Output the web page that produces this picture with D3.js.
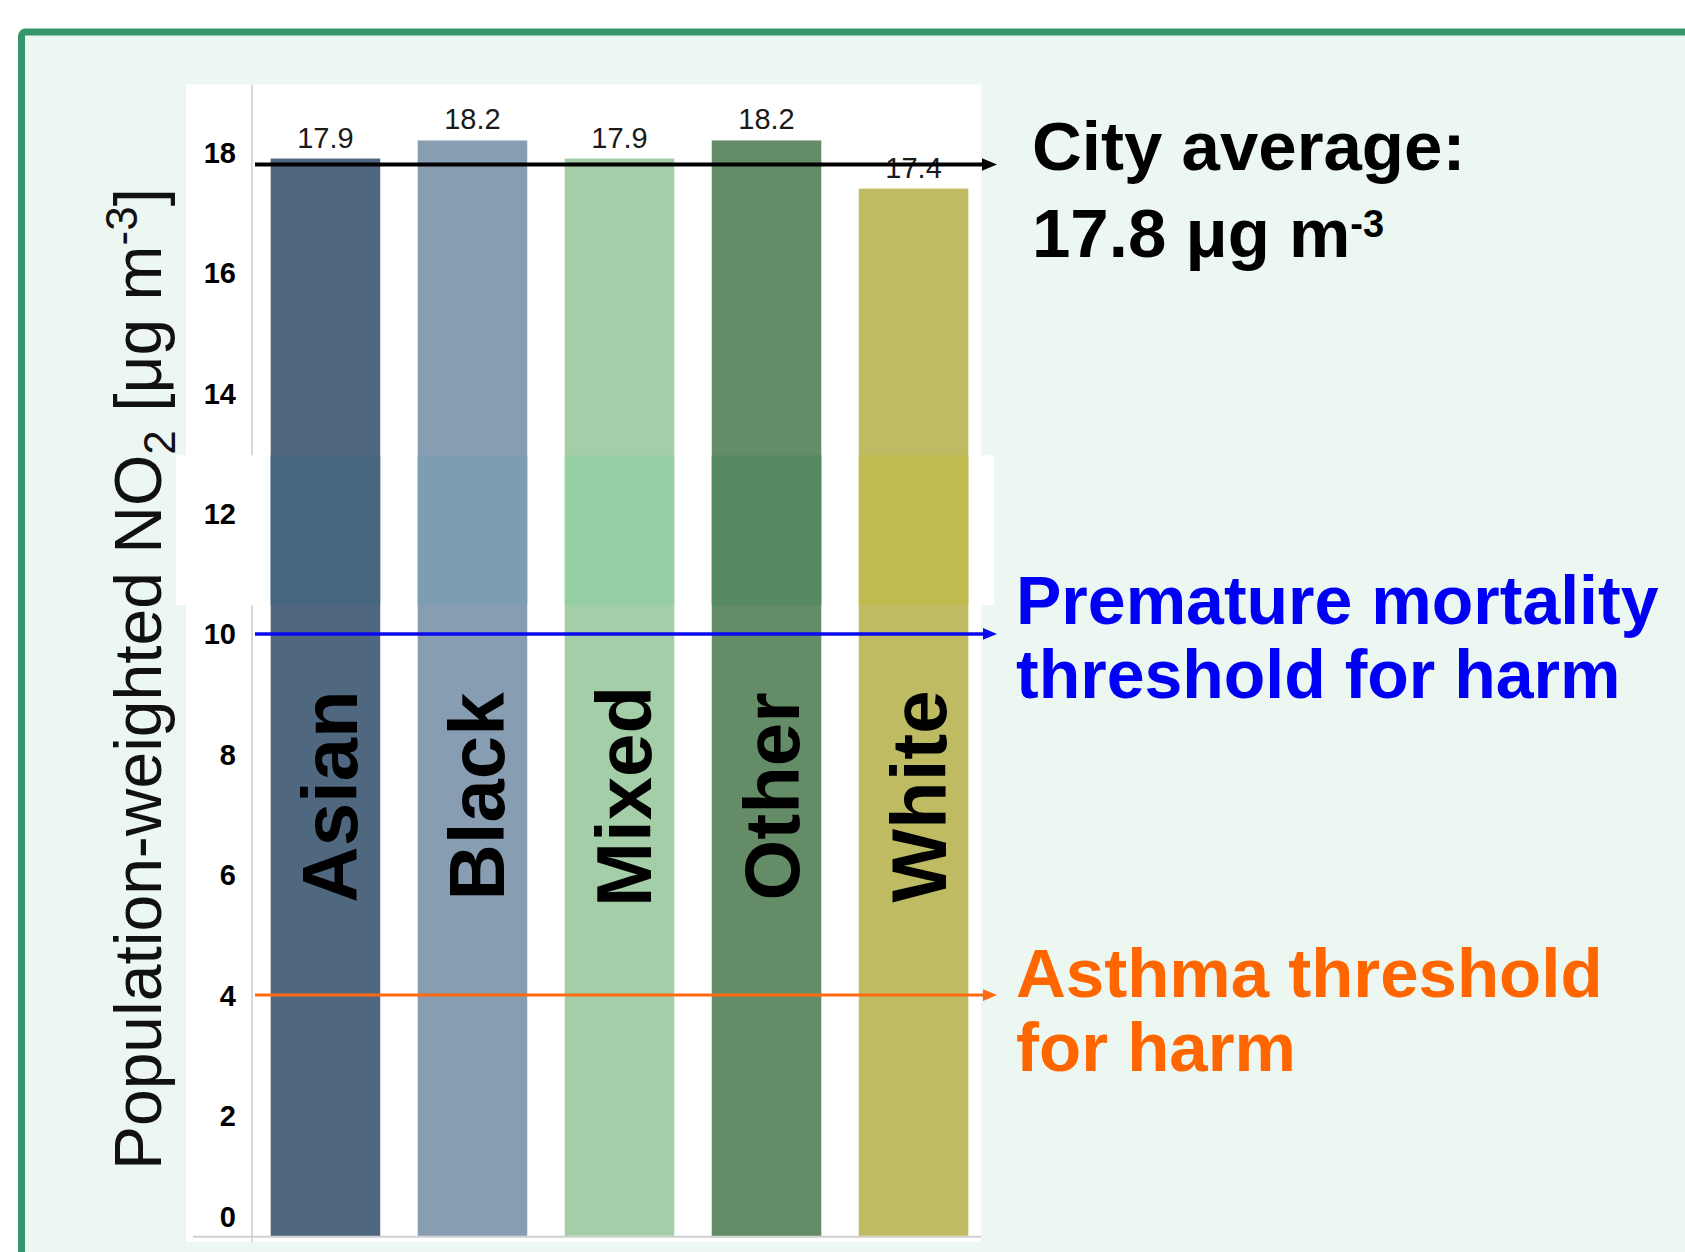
<!DOCTYPE html>
<html>
<head>
<meta charset="utf-8">
<script src="https://cdn.jsdelivr.net/npm/d3@7"></script>
<style>
  html, body { margin: 0; padding: 0; background: #ffffff; }
  svg { display: block; }
  text { font-family: "Liberation Sans", Arial, Helvetica, sans-serif; }
</style>
</head>
<body>
<svg id="chart" width="1685" height="1252"></svg>
<script>
// Population-weighted NO2 by ethnic group
const categories = ["Asian", "Black", "Mixed", "Other", "White"];
const no2Values = [17.9, 18.2, 17.9, 18.2, 17.4];
const valueLabels = ["17.9", "18.2", "17.9", "18.2", "17.4"];
const yTickValues = [0, 2, 4, 6, 8, 10, 12, 14, 16, 18];
const cityAverage = 17.8;
const mortalityThreshold = 10;
const asthmaThreshold = 4;

const barColors = ["#4F6880", "#879DB2", "#A3CEA8", "#638C67", "#BFBB62"];
const bandColors = ["#46677F", "#7E9DB2", "#97CFA5", "#588A62", "#BFBB50"];

const svg = d3.select("#chart");

// Slide panel with green border
svg.append("rect")
  .attr("x", 21.5).attr("y", 32)
  .attr("width", 1720).attr("height", 1300)
  .attr("rx", 4)
  .attr("fill", "#EDF7F1")
  .attr("stroke", "#35966B")
  .attr("stroke-width", 7);

// Scales
const x = d3.scaleBand()
  .domain(categories)
  .range([252, 987])
  .paddingInner(0.255)
  .paddingOuter(0.127);

const y = d3.scaleLinear()
  .domain([0, 18])
  .range([1235.8, 152.5]);

// Plot background
const plotTop = y(19.13);
svg.append("rect")
  .attr("x", 186).attr("y", plotTop)
  .attr("width", 981 - 186).attr("height", 1242 - plotTop)
  .attr("fill", "#ffffff");

// Axis lines
svg.append("line")
  .attr("x1", 252).attr("x2", 252)
  .attr("y1", plotTop).attr("y2", 1242)
  .attr("stroke", "#D9D9D9").attr("stroke-width", 2);
svg.append("line")
  .attr("x1", 193).attr("x2", 981)
  .attr("y1", y(0) + 1).attr("y2", y(0) + 1)
  .attr("stroke", "#D0D0D0").attr("stroke-width", 2);

// Lighter strip across the middle of the plot
const stripHi = 12.97, stripLo = 10.48;
svg.append("rect")
  .attr("x", 176).attr("y", y(stripHi))
  .attr("width", 994 - 176).attr("height", y(stripLo) - y(stripHi))
  .attr("fill", "#ffffff");

// Bars
const data = categories.map((c, i) => ({ cat: c, v: no2Values[i], label: valueLabels[i], i }));

svg.append("g").selectAll("rect")
  .data(data)
  .join("rect")
  .attr("x", d => x(d.cat))
  .attr("y", d => y(d.v))
  .attr("width", x.bandwidth())
  .attr("height", d => y(0) - y(d.v))
  .attr("fill", d => barColors[d.i]);

// Slightly more saturated section of each bar inside the strip
svg.append("g").selectAll("rect")
  .data(data)
  .join("rect")
  .attr("x", d => x(d.cat))
  .attr("y", y(stripHi))
  .attr("width", x.bandwidth())
  .attr("height", y(stripLo) - y(stripHi))
  .attr("fill", d => bandColors[d.i]);

// Value labels above bars
svg.append("g").selectAll("text")
  .data(data)
  .join("text")
  .attr("x", d => x(d.cat) + x.bandwidth() / 2)
  .attr("y", d => y(d.v) - 11)
  .attr("text-anchor", "middle")
  .attr("font-size", 29)
  .attr("fill", "#1a1a1a")
  .text(d => d.label);

// Y tick labels
svg.append("g").selectAll("text")
  .data(yTickValues)
  .join("text")
  .attr("x", 236)
  .attr("y", d => d === 0 ? y(d) - 19 : y(d))
  .attr("dy", "0.36em")
  .attr("text-anchor", "end")
  .attr("font-size", 29)
  .attr("font-weight", "bold")
  .attr("fill", "#000")
  .text(d => d);

// Reference lines with arrowheads
const lineX0 = 255;
const lineX1 = x.range()[1] + 10;
function arrowLine(value, color, width, head) {
  const yy = y(value);
  svg.append("line")
    .attr("x1", lineX0).attr("x2", lineX1 - head)
    .attr("y1", yy).attr("y2", yy)
    .attr("stroke", color).attr("stroke-width", width);
  svg.append("path")
    .attr("d", d3.line()([[lineX1 - head - 1, yy - head * 0.45], [lineX1, yy], [lineX1 - head - 1, yy + head * 0.45]]) + "Z")
    .attr("fill", color);
}
arrowLine(cityAverage, "#000000", 4, 14);
arrowLine(mortalityThreshold, "#0A0AF0", 3.5, 13);
arrowLine(asthmaThreshold, "#FF6A10", 3, 13);

// Category names inside bars
svg.append("g").selectAll("text")
  .data(data)
  .join("text")
  .attr("transform", d => `translate(${x(d.cat) + x.bandwidth() / 2},${y(7.3)}) rotate(-90)`)
  .attr("text-anchor", "middle")
  .attr("dy", "0.41em")
  .attr("font-size", 78)
  .attr("font-weight", "bold")
  .attr("fill", "#000")
  .text(d => d.cat);

// Y axis title
const yTitle = svg.append("text")
  .attr("transform", "translate(161,679) rotate(-90)")
  .attr("text-anchor", "middle")
  .attr("font-size", 66)
  .attr("fill", "#111");
yTitle.append("tspan").text("Population-weighted NO");
yTitle.append("tspan").attr("font-size", 44).attr("dy", 14).text("2");
yTitle.append("tspan").attr("dy", -14).text(" [\u03BCg m");
yTitle.append("tspan").attr("font-size", 44).attr("dy", -24).text("-3");
yTitle.append("tspan").attr("dy", 24).text("]");

// Annotations on the right
const avg = svg.append("g").attr("font-weight", "bold").attr("fill", "#000");
avg.append("text").attr("x", 1032).attr("y", 170).attr("font-size", 69).text("City average:");
const avg2 = avg.append("text").attr("x", 1032).attr("y", 257).attr("font-size", 69);
avg2.append("tspan").text(cityAverage.toFixed(1) + " \u03BCg m");
avg2.append("tspan").attr("font-size", 38).attr("dy", -20).text("-3");

const mort = svg.append("g").attr("font-weight", "bold").attr("fill", "#0000F5").attr("font-size", 68);
mort.append("text").attr("x", 1016).attr("y", 624).text("Premature mortality");
mort.append("text").attr("x", 1016).attr("y", 698).text("threshold for harm");

const asth = svg.append("g").attr("font-weight", "bold").attr("fill", "#FF6600").attr("font-size", 69);
asth.append("text").attr("x", 1016).attr("y", 997).text("Asthma threshold");
asth.append("text").attr("x", 1016).attr("y", 1071).text("for harm");
</script>
</body>
</html>
